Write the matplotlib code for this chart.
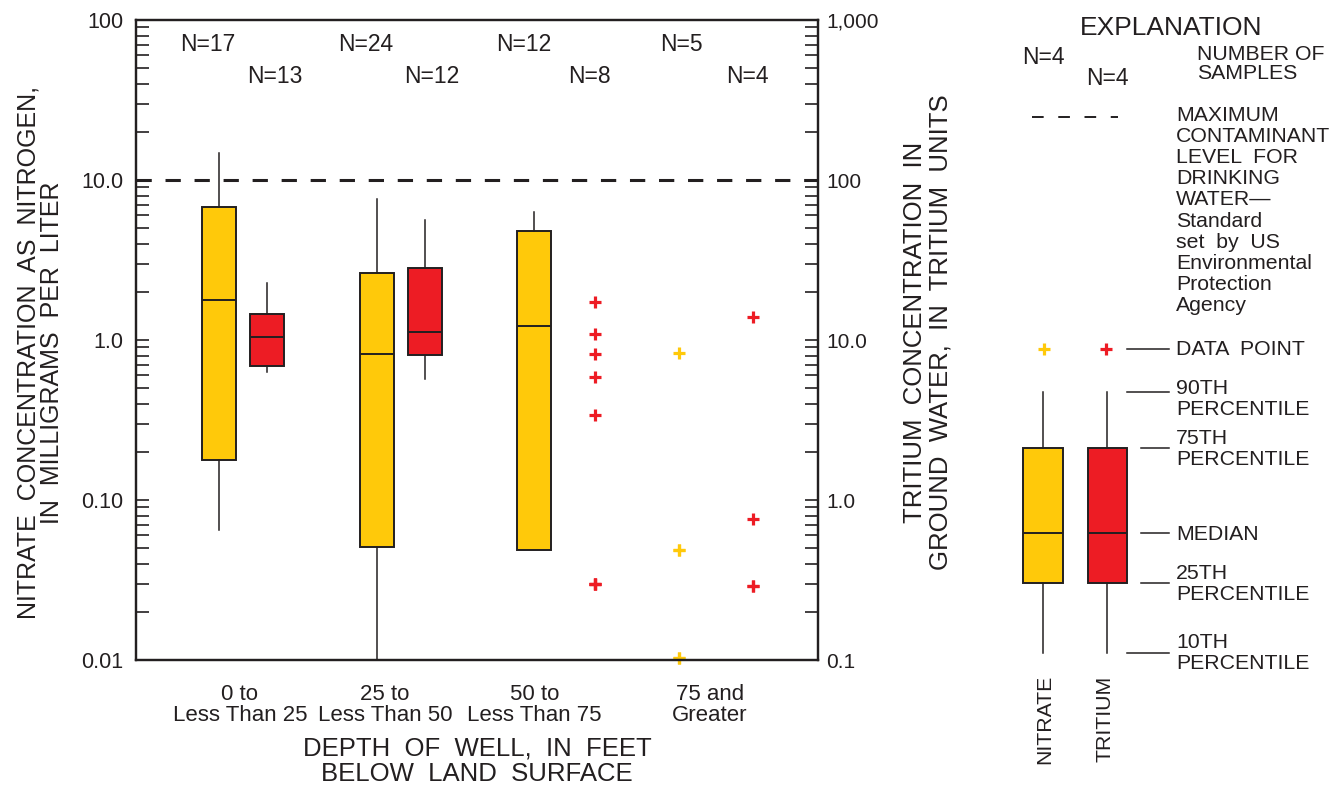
import matplotlib
matplotlib.use("Agg")
import matplotlib.pyplot as plt
from matplotlib.ticker import LogLocator, NullFormatter, FixedLocator, FixedFormatter

plt.rcParams['font.family'] = ['Liberation Sans', 'DejaVu Sans']

# ---------------- data ----------------
categories = ["0 to\nLess Than 25", "25 to\nLess Than 50", "50 to\nLess Than 75", "75 and\nGreater"]
nitrate_n = [17, 24, 12, 5]
tritium_n = [13, 12, 8, 4]

# nitrate (mg/L as N) box statistics for groups 0,1,2
nitrate_box_groups = [0, 1, 2]
nitrate_p10 = [0.065, 0.010, 0.049]
nitrate_p25 = [0.178, 0.0506, 0.049]
nitrate_med = [1.78, 0.82, 1.22]
nitrate_p75 = [6.8, 2.62, 4.82]
nitrate_p90 = [14.7, 7.6, 6.3]
# nitrate individual points (group 3)
nitrate_point_group = 3
nitrate_points = [0.83, 0.049, 0.049, 0.0103, 0.0103]

# tritium (TU) box statistics for groups 0,1
tritium_box_groups = [0, 1]
tritium_p10 = [6.3, 5.7]
tritium_p25 = [6.9, 8.1]
tritium_med = [10.5, 11.3]
tritium_p75 = [14.5, 28.3]
tritium_p90 = [22.7, 56.0]
# tritium individual points (groups 2 and 3)
tritium_points_g2 = [17.2, 10.9, 8.2, 5.9, 3.4, 0.30, 0.30, 0.30]
tritium_points_g3 = [13.9, 0.76, 0.29, 0.29]

mcl_nitrate = 10.0

left_ticks = [0.01, 0.1, 1, 10, 100]
left_ticklabels = ["0.01", "0.10", "1.0", "10.0", "100"]
right_ticks = [0.1, 1, 10, 100, 1000]
right_ticklabels = ["0.1", "1.0", "10.0", "100", "1,000"]

YELLOW = "#FFC90A"
RED = "#ED1C24"
DARK = "#231F20"

# ---------------- layout ----------------
W, H = 1340, 788
fig = plt.figure(figsize=(W / 100, H / 100), dpi=100)
ax = fig.add_axes([136 / W, 1 - 660 / H, (818 - 136) / W, (660 - 20) / H])
ax.set_yscale('log')
ax.set_ylim(0.01, 100)
ax.set_xlim(0.322, 4.646)
ax2 = ax.twinx()
ax2.set_yscale('log')
ax2.set_ylim(0.1, 1000)

box_off = 0.152
pt_off = 0.235
box_w = 0.215
centers = [1, 2, 3, 4]

box_kw = dict(patch_artist=True, showfliers=False, showcaps=False, widths=box_w,
              boxprops=dict(linewidth=1.4, edgecolor=DARK),
              medianprops=dict(color=DARK, linewidth=1.4),
              whiskerprops=dict(color=DARK, linewidth=1.1))

nstats = [dict(whislo=nitrate_p10[i], q1=nitrate_p25[i], med=nitrate_med[i],
               q3=nitrate_p75[i], whishi=nitrate_p90[i]) for i in range(len(nitrate_box_groups))]
bp = ax.bxp(nstats, positions=[centers[g] - box_off for g in nitrate_box_groups], **box_kw)
for b in bp['boxes']:
    b.set_facecolor(YELLOW)

tstats = [dict(whislo=tritium_p10[i], q1=tritium_p25[i], med=tritium_med[i],
               q3=tritium_p75[i], whishi=tritium_p90[i]) for i in range(len(tritium_box_groups))]
bp2 = ax2.bxp(tstats, positions=[centers[g] + box_off for g in tritium_box_groups], **box_kw)
for b in bp2['boxes']:
    b.set_facecolor(RED)

mk = dict(marker='+', linestyle='none', markersize=8.5, markeredgewidth=2.3, clip_on=False)
ax.plot([centers[nitrate_point_group] - pt_off] * len(nitrate_points), nitrate_points, color=YELLOW, **mk)
ax2.plot([centers[2] + pt_off] * len(tritium_points_g2), tritium_points_g2, color=RED, **mk)
ax2.plot([centers[3] + pt_off] * len(tritium_points_g3), tritium_points_g3, color=RED, **mk)

ax.axhline(mcl_nitrate, color=DARK, linewidth=2.2, dashes=(5, 4.5), zorder=5)

# N labels
for i, c in enumerate(centers):
    ax.text(c - 0.22, 0.961, f"N={nitrate_n[i]}", transform=ax.get_xaxis_transform(),
            ha='center', va='center', fontsize=16.5, color=DARK)
    ax.text(c + 0.20, 0.911, f"N={tritium_n[i]}", transform=ax.get_xaxis_transform(),
            ha='center', va='center', fontsize=16.5, color=DARK)

# axes styling
for a in (ax, ax2):
    for s in a.spines.values():
        s.set_linewidth(1.6)
        s.set_color(DARK)

ax.yaxis.set_major_locator(FixedLocator(left_ticks))
ax.yaxis.set_major_formatter(FixedFormatter(left_ticklabels))
ax.yaxis.set_minor_locator(LogLocator(base=10, subs=range(2, 10)))
ax.yaxis.set_minor_formatter(NullFormatter())
ax.tick_params(axis='y', which='both', direction='in', length=9.5, width=1.2, color=DARK,
               labelsize=15.5, pad=9, labelcolor=DARK)

ax2.yaxis.set_major_locator(FixedLocator(right_ticks))
ax2.yaxis.set_major_formatter(FixedFormatter(right_ticklabels))
ax2.yaxis.set_minor_locator(LogLocator(base=10, subs=range(2, 10)))
ax2.yaxis.set_minor_formatter(NullFormatter())
ax2.tick_params(axis='y', which='both', direction='in', length=9.5, width=1.2, color=DARK,
                labelsize=15, pad=6, labelcolor=DARK)

label_shift = [-0.02, -0.1, -0.15, -0.04]
ax.set_xticks([c + s for c, s in zip(centers, label_shift)])
ax.set_xticklabels(categories, fontsize=16, color=DARK, linespacing=1.0)
ax.tick_params(axis='x', length=0, pad=17)

ax.set_ylabel("NITRATE  CONCENTRATION  AS  NITROGEN,\nIN  MILLIGRAMS  PER  LITER",
              fontsize=18, color=DARK, linespacing=1.02)
ax.yaxis.set_label_coords(-0.105, 0.48)
ax2.set_ylabel("TRITIUM  CONCENTRATION  IN\nGROUND  WATER,  IN  TRITIUM  UNITS",
               fontsize=18.5, color=DARK, linespacing=1.08, rotation=90)
ax2.yaxis.set_label_coords(1.125, 0.512)
ax.set_xlabel("DEPTH  OF  WELL,  IN  FEET\nBELOW  LAND  SURFACE", fontsize=18.5,
              color=DARK, linespacing=1.05, labelpad=8)

# ---------------- explanation (legend) ----------------
lg = fig.add_axes([990 / W, 0, (W - 990) / W, 1])
lg.set_xlim(990, W)
lg.set_ylim(H, 0)
lg.axis('off')

FS = 15.3
lg.text(1171, 28, "EXPLANATION", ha='center', va='center', fontsize=19, color=DARK)
lg.text(1043, 57, "N=4", ha='center', va='center', fontsize=16.5, color=DARK)
lg.text(1107, 78, "N=4", ha='center', va='center', fontsize=16.5, color=DARK)
lg.text(1197, 64, "NUMBER OF\nSAMPLES", ha='left', va='center', fontsize=FS,
        color=DARK, linespacing=1.05)
lg.plot([1032, 1118], [117, 117], color=DARK, linewidth=1.4, dashes=(6, 7.5))
lg.text(1176, 106, "MAXIMUM\nCONTAMINANT\nLEVEL  FOR\nDRINKING\nWATER—\nStandard\nset  by  US\n"
        "Environmental\nProtection\nAgency", ha='left', va='top', fontsize=FS,
        color=DARK, linespacing=1.14)

lg.plot([1044], [349], color=YELLOW, **mk)
lg.plot([1106], [349], color=RED, **mk)

leg_stats = dict(whislo=653, q1=583, med=533, q3=448, whishi=392)
lb1 = lg.bxp([leg_stats], positions=[1043], **{**box_kw, 'widths': 39})
lb1['boxes'][0].set_facecolor(YELLOW)
lb2 = lg.bxp([leg_stats], positions=[1107], **{**box_kw, 'widths': 39})
lb2['boxes'][0].set_facecolor(RED)

leader_lines = [(1127, 349), (1127, 392), (1141, 448), (1141, 533), (1141, 583), (1127, 653)]
for x0, y in leader_lines:
    lg.plot([x0, 1169], [y, y], color=DARK, linewidth=1.1)

lg.text(1176, 349, "DATA  POINT", ha='left', va='center', fontsize=FS, color=DARK)
lg.text(1176, 399, "90TH\nPERCENTILE", ha='left', va='center', fontsize=FS, color=DARK, linespacing=1.12)
lg.text(1176, 449, "75TH\nPERCENTILE", ha='left', va='center', fontsize=FS, color=DARK, linespacing=1.12)
lg.text(1176, 534, "MEDIAN", ha='left', va='center', fontsize=FS, color=DARK)
lg.text(1176, 584, "25TH\nPERCENTILE", ha='left', va='center', fontsize=FS, color=DARK, linespacing=1.12)
lg.text(1176, 653, "10TH\nPERCENTILE", ha='left', va='center', fontsize=FS, color=DARK, linespacing=1.12)

lg.text(1045, 719, "NITRATE", ha='center', va='center', rotation=90, fontsize=FS, color=DARK)
lg.text(1105, 719, "TRITIUM", ha='center', va='center', rotation=90, fontsize=FS, color=DARK)

fig.savefig("out.png", dpi=100)
